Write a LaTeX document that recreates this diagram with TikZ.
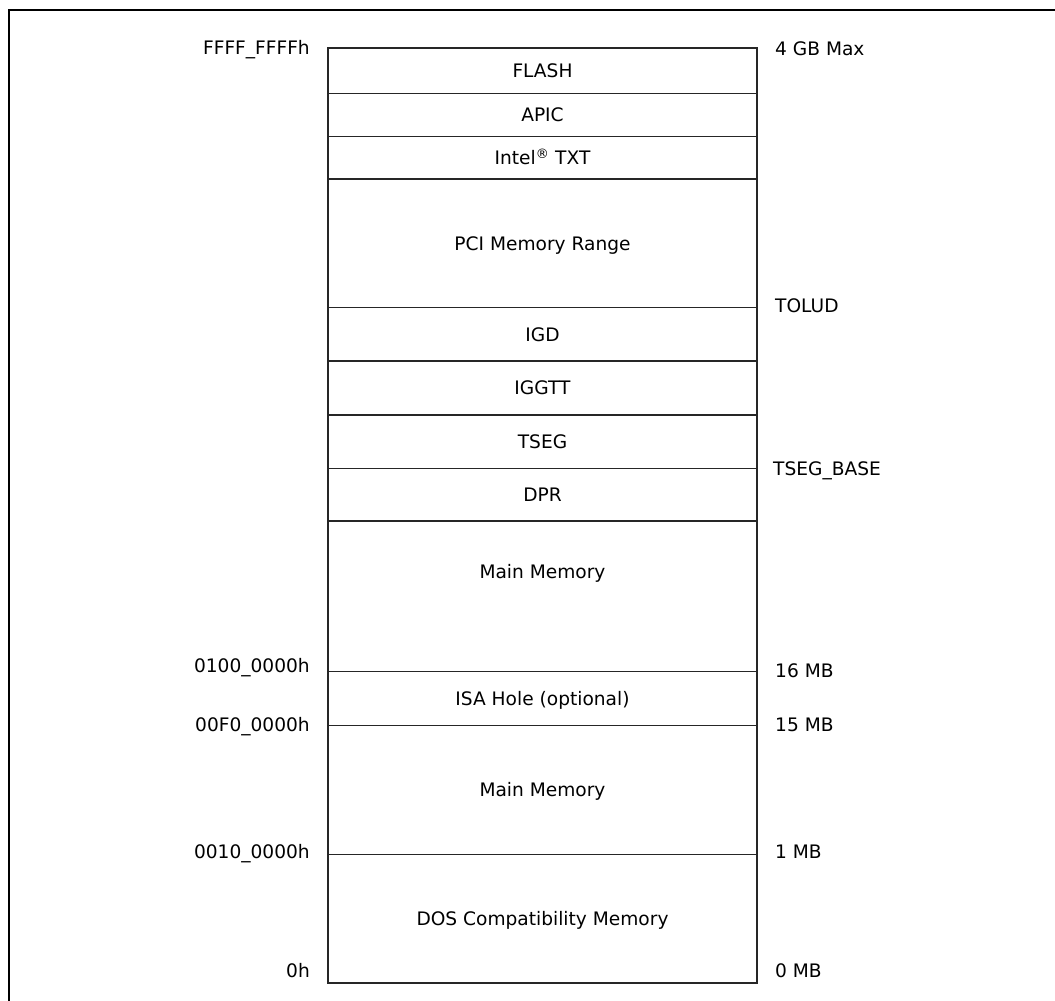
\documentclass[tikz,border=0pt]{standalone}
\usepackage{fontspec}
\setmainfont{DejaVu Sans}
\begin{document}
\begin{tikzpicture}[x=1pt,y=-1pt,
  txt/.style={font=\fontsize{18.6}{22}\selectfont, inner sep=0pt},
  seg/.style={txt, draw=black!85, line width=1.3pt, rectangle, minimum width=429pt,
              anchor=north west, outer sep=0pt, text height=13.5pt, text depth=0pt},
  lft/.style={txt, anchor=base east},
  rgt/.style={txt, anchor=base west}]
\useasboundingbox (0,0) rectangle (1055,1001);
% outer frame (cropped)
\draw[line width=2pt] (8.8,1001) -- (8.8,9.8) -- (1055,9.8);
% segments, stacked so shared edges coincide
\node[seg, minimum height=45.3pt] (flash) at (328,48) {FLASH};
\node[seg, minimum height=43.4pt] (apic) at (flash.south west) {APIC};
\node[seg, minimum height=42.3pt] (txt) at (apic.south west) {Intel\textsuperscript{®} TXT};
\node[seg, minimum height=128.7pt] (pci) at (txt.south west) {PCI Memory Range};
\node[seg, minimum height=53.3pt] (igd) at (pci.south west) {IGD};
\node[seg, minimum height=54pt] (iggtt) at (igd.south west) {IGGTT};
\node[seg, minimum height=53.3pt] (tseg) at (iggtt.south west) {TSEG};
\node[seg, minimum height=52.7pt] (dpr) at (tseg.south west) {DPR};
\node[seg, minimum height=150.7pt] (main1) at (dpr.south west) {};
\node[txt, text height=13.5pt, text depth=0pt] (main1t) at (542.5,572) {Main Memory};
\node[seg, minimum height=54pt] (isa) at (main1.south west) {ISA Hole (optional)};
\node[seg, minimum height=128.6pt] (main2) at (isa.south west) {Main Memory};
\node[seg, minimum height=128.7pt] (dos) at (main2.south west) {DOS Compatibility Memory};
% left labels
\node[lft] (l1) at (310,54.5) {FFFF\_FFFFh};
\node[lft] (l2) at (310,672) {0100\_0000h};
\node[lft] (l3) at (310,731) {00F0\_0000h};
\node[lft] (l4) at (310,858) {0010\_0000h};
\node[lft] (l5) at (310,977) {0h};
% right labels
\node[rgt] (r1) at (775,55) {4 GB Max};
\node[rgt] (r2) at (775,312) {TOLUD};
\node[rgt] (r3) at (773,475) {TSEG\_BASE};
\node[rgt] (r4) at (775,677) {16 MB};
\node[rgt] (r5) at (775,731) {15 MB};
\node[rgt] (r6) at (775,858) {1 MB};
\node[rgt] (r7) at (775,977) {0 MB};
\end{tikzpicture}
\end{document}
